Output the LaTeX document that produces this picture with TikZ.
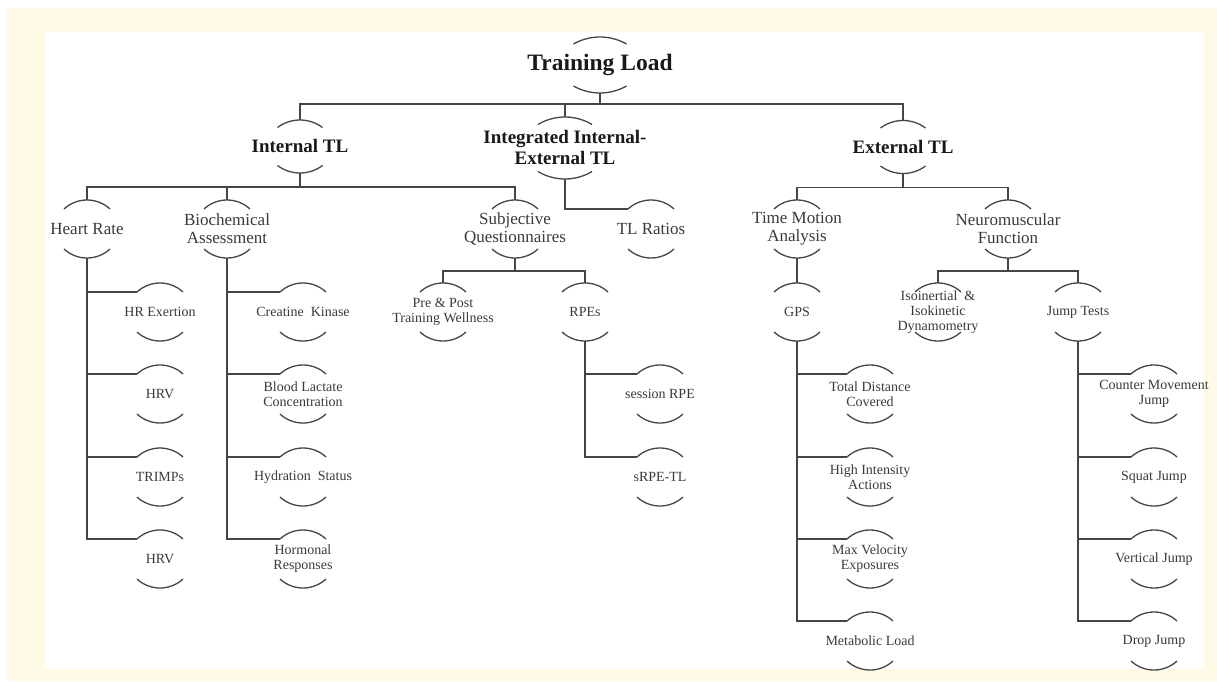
\documentclass[tikz,border=0pt]{standalone}
\usepackage{fontspec}
\setmainfont{Liberation Serif}
\usetikzlibrary{calc}
\definecolor{cream}{HTML}{FFFAE6}
\definecolor{ink}{HTML}{3A3A3A}
\definecolor{linec}{HTML}{454545}
\tikzset{
  conn/.style={draw=linec, line width=1.4pt},
  arcline/.style={draw=linec, line width=1.3pt},
  rootlbl/.style={font=\fontsize{23.5}{26}\selectfont\bfseries, text=black!90, align=center, inner sep=0pt},
  mainlbl/.style={font=\fontsize{19}{21}\selectfont\bfseries, text=black!90, align=center, inner sep=0pt},
  sublbl/.style={font=\fontsize{17}{18}\selectfont, text=ink, align=center, inner sep=0pt},
  leaflbl/.style={font=\fontsize{14}{15}\selectfont, text=ink, align=center, inner sep=0pt},
}
% cap arcs: half chord, sagitta, distance from label centre to the arc tips
\newcommand\capset[3]{\def\capH{#1}\def\capS{#2}\def\capD{#3}}
\newcommand\capnode[4]{%
  \node[#3] (#1) at (#2) {#4};
  \coordinate (#1-c) at (#2);
  \pgfmathsetmacro\capR{(\capH*\capH+\capS*\capS)/(2*\capS)}
  \pgfmathsetmacro\capA{asin(\capH/\capR)}
  \coordinate (#1-t) at ($(#1-c)+(0,-\capD)$);
  \coordinate (#1-l) at ($(#1-c)+(-\capH,-\capD+\capS)$);
  \coordinate (#1-b) at ($(#1-c)+(0,\capD)$);
  \draw[arcline] (#1-l) arc[start angle=90+\capA, end angle=90-\capA, radius=\capR pt];
  \draw[arcline] ($(#1-c)+(-\capH,\capD-\capS)$) arc[start angle=270-\capA, end angle=270+\capA, radius=\capR pt];
}
\begin{document}
\begin{tikzpicture}[x=1pt, y=-1pt]
  % frame
  \fill[white] (0,0) rectangle (1217,682);
  \fill[cream] (7,8) rectangle (1217,681);
  \fill[white] (45,32) rectangle (1204,669);
  \useasboundingbox (0,0) rectangle (1217,682);

  % root
  \capset{26.5}{7}{28}
  \capnode{tl}{600,65}{rootlbl}{Training Load}

  % first level
  \capset{22.5}{7.5}{26.5}
  \capnode{itl}{300,146.5}{mainlbl}{Internal TL}
  \capnode{etl}{903,147}{mainlbl}{External TL}
  \capset{27}{7.5}{31}
  \capnode{iet}{565,148}{mainlbl}{Integrated Internal-\\External TL}

  % second level
  \capset{23}{9}{29}
  \capnode{hr}{87,229}{sublbl}{Heart Rate}
  \capnode{bio}{227,229}{sublbl}{Biochemical\\Assessment}
  \capnode{sq}{515,229}{sublbl}{Subjective\\Questionnaires}
  \capnode{tlr}{651,229}{sublbl}{TL Ratios}
  \capnode{tma}{797,229}{sublbl}{Time Motion\\Analysis}
  \capnode{nmf}{1008,229}{sublbl}{Neuromuscular\\Function}

  % third level
  \capnode{pre}{443,312}{leaflbl}{Pre \& Post\\Training Wellness}
  \capnode{rpe}{585,312}{leaflbl}{RPEs}
  \capnode{gps}{797,312}{leaflbl}{GPS}
  \capnode{iso}{938,312}{leaflbl}{Isoinertial~ \&\\Isokinetic\\Dynamometry}
  \capnode{jt}{1078,312}{leaflbl}{Jump Tests}

  % heart rate measures
  \capnode{hrex}{160,312}{leaflbl}{HR Exertion}
  \capnode{hrva}{160,394}{leaflbl}{HRV}
  \capnode{trimp}{160,477}{leaflbl}{TRIMPs}
  \capnode{hrvb}{160,559}{leaflbl}{HRV}

  % biochemical measures
  \capnode{ck}{303,312}{leaflbl}{Creatine~ Kinase}
  \capnode{blc}{303,394}{leaflbl}{Blood Lactate\\Concentration}
  \capnode{hyd}{303,477}{leaflbl}{Hydration~ Status}
  \capnode{hor}{303,559}{leaflbl}{Hormonal\\Responses}

  % RPE measures
  \capnode{srpe}{660,394}{leaflbl}{session RPE}
  \capnode{srpetl}{660,477}{leaflbl}{sRPE-TL}

  % GPS measures
  \capnode{tdc}{870,394}{leaflbl}{Total Distance\\Covered}
  \capnode{hia}{870,477}{leaflbl}{High Intensity\\Actions}
  \capnode{mve}{870,559}{leaflbl}{Max Velocity\\Exposures}
  \capnode{ml}{870,641}{leaflbl}{Metabolic Load}

  % jump tests
  \capnode{cmj}{1154,394}{leaflbl}{Counter Movement\\Jump}
  \capnode{sj}{1154,477}{leaflbl}{Squat Jump}
  \capnode{vj}{1154,559}{leaflbl}{Vertical Jump}
  \capnode{dj}{1154,641}{leaflbl}{Drop Jump}

  % junctions of the horizontal bars
  \coordinate (j0) at ($(tl-b)+(0,11)$);
  \coordinate (j1) at ($(itl-b)+(0,14)$);
  \coordinate (j2) at ($(etl-b)+(0,14)$);
  \coordinate (j3) at ($(sq-b)+(0,13)$);
  \coordinate (j4) at ($(nmf-b)+(0,13)$);

  % connectors
  \draw[conn] (tl-b) -- (j0) -| (itl-t);
  \draw[conn] (j0) -| (iet-t);
  \draw[conn] (j0) -| (etl-t);

  \draw[conn] (itl-b) -- (j1) -| (hr-t);
  \draw[conn] (j1) -| (bio-t);
  \draw[conn] (j1) -| (sq-t);

  \draw[conn] (iet-b) |- (tlr-l);

  \draw[conn] (etl-b) -- (j2) -| (tma-t);
  \draw[conn] (j2) -| (nmf-t);

  \draw[conn] (sq-b) -- (j3) -| (pre-t);
  \draw[conn] (j3) -| (rpe-t);

  \draw[conn] (tma-b) -- (gps-t);

  \draw[conn] (nmf-b) -- (j4) -| (iso-t);
  \draw[conn] (j4) -| (jt-t);

  \foreach \c in {hrex,hrva,trimp,hrvb} \draw[conn] (hr-b) |- (\c-l);
  \foreach \c in {ck,blc,hyd,hor} \draw[conn] (bio-b) |- (\c-l);
  \foreach \c in {srpe,srpetl} \draw[conn] (rpe-b) |- (\c-l);
  \foreach \c in {tdc,hia,mve,ml} \draw[conn] (gps-b) |- (\c-l);
  \foreach \c in {cmj,sj,vj,dj} \draw[conn] (jt-b) |- (\c-l);
\end{tikzpicture}
\end{document}
